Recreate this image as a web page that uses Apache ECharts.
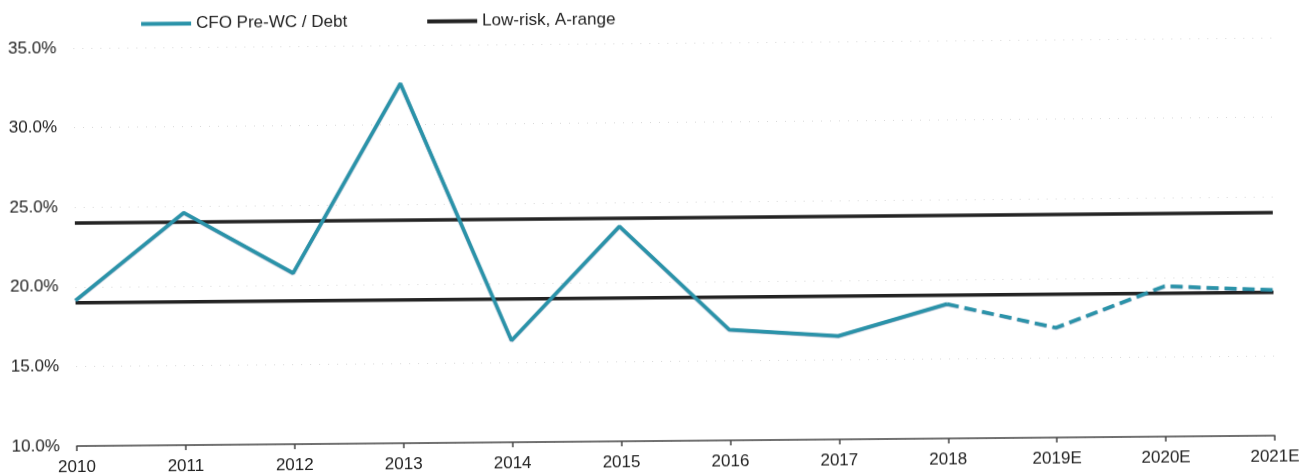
<!DOCTYPE html>
<html>
<head>
<meta charset="utf-8">
<script src="https://cdn.jsdelivr.net/npm/echarts@6/dist/echarts.min.js"></script>
<style>
  html, body { margin: 0; padding: 0; background: #ffffff; overflow: hidden; }
  #chart { width: 1311px; height: 475px; transform: rotate(-0.5deg); transform-origin: 50% 50%; }
</style>
</head>
<body>
<div id="chart"></div>
<script>
const categories = ['2010', '2011', '2012', '2013', '2014', '2015', '2016', '2017', '2018', '2019E', '2020E', '2021E'];
const cfoActual = [19.15, 24.6, 20.75, 32.6, 16.4, 23.5, 16.95, 16.5, 18.45, null, null, null];
const cfoEstimate = [null, null, null, null, null, null, null, null, 18.45, 16.9, 19.45, 19.15];
const lowRiskUpper = [24.0, 24.0, 24.0, 24.0, 24.0, 24.0, 24.0, 24.0, 24.0, 24.0, 24.0, 24.0];
const lowRiskLower = [19.0, 19.0, 19.0, 19.0, 19.0, 19.0, 19.0, 19.0, 19.0, 19.0, 19.0, 19.0];
const yTicks = { min: 10, max: 35, interval: 5 };

const FONT = "'Liberation Sans', Arial, sans-serif";
const TEAL = '#2a93a9';
const BLACK = '#232323';

const chart = echarts.init(document.getElementById('chart'), null, { renderer: 'canvas' });
chart.setOption({
  backgroundColor: '#ffffff',
  animation: false,
  textStyle: { fontFamily: FONT },
  legend: {
    left: 138,
    top: 6,
    itemWidth: 50,
    itemHeight: 4,
    itemGap: 80,
    icon: 'rect',
    data: [
      { name: 'CFO Pre-WC / Debt', itemStyle: { color: TEAL } },
      { name: 'Low-risk, A-range', itemStyle: { color: BLACK } }
    ],
    textStyle: { fontFamily: FONT, fontSize: 17, color: '#222' }
  },
  grid: { left: 75, right: 38, top: 43, bottom: 34, containLabel: false },
  xAxis: {
    type: 'category',
    data: categories,
    boundaryGap: false,
    axisLine: { show: true, lineStyle: { color: '#444', width: 1.5 } },
    axisTick: { show: true, length: 5, lineStyle: { color: '#444', width: 1.5 } },
    axisLabel: { color: '#222', fontSize: 17, fontFamily: FONT, margin: 13 },
    splitLine: { show: false }
  },
  yAxis: {
    type: 'value',
    min: yTicks.min,
    max: yTicks.max,
    interval: yTicks.interval,
    axisLine: { show: false },
    axisTick: { show: false },
    axisLabel: {
      color: '#222', fontSize: 17, fontFamily: FONT, margin: 17,
      formatter: v => v.toFixed(1) + '%'
    },
    splitLine: { show: true, lineStyle: { color: '#d8d8d8', type: [1, 8], width: 1 } }
  },
  series: [
    {
      name: 'Low-risk, A-range', type: 'line', data: lowRiskUpper,
      symbol: 'none', lineStyle: { color: BLACK, width: 3.5 }, itemStyle: { color: BLACK }, z: 2
    },
    {
      name: 'Low-risk, A-range', type: 'line', data: lowRiskLower,
      symbol: 'none', lineStyle: { color: BLACK, width: 3.5 }, itemStyle: { color: BLACK }, z: 2
    },
    {
      name: 'CFO Pre-WC / Debt', type: 'line', data: cfoActual,
      symbol: 'none', connectNulls: false,
      lineStyle: { color: TEAL, width: 3.5, shadowColor: 'rgba(20,70,120,0.55)', shadowBlur: 1, shadowOffsetY: 0.5 },
      itemStyle: { color: TEAL }, z: 3
    },
    {
      name: 'CFO Pre-WC / Debt', type: 'line', data: cfoEstimate,
      symbol: 'none', connectNulls: false,
      lineStyle: { color: TEAL, width: 3.5, type: [12, 6], shadowColor: 'rgba(20,70,120,0.55)', shadowBlur: 1, shadowOffsetY: 0.5 },
      itemStyle: { color: TEAL }, z: 3
    }
  ]
});
</script>
</body>
</html>
